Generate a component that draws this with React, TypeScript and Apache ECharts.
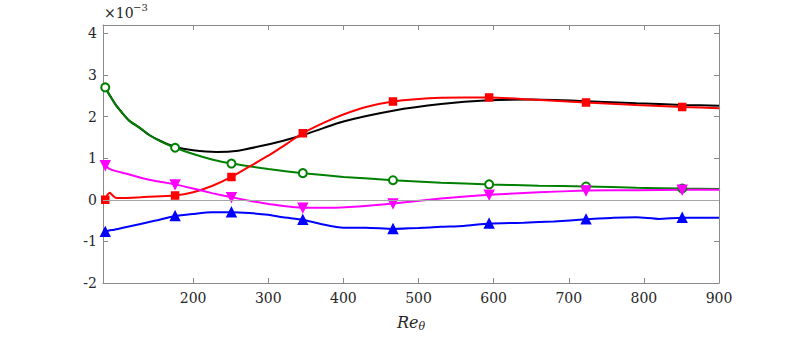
import React, { useEffect, useRef } from "react";
import * as echarts from "echarts";

const X_TICKS = [200, 300, 400, 500, 600, 700, 800, 900];
const Y_TICKS = [-2, -1, 0, 1, 2, 3, 4];
const MARKER_X = [83, 176, 251, 346, 466, 594, 723, 851];

const greenX = [83, 90, 97, 105, 115, 128, 142, 158, 176, 200, 225, 251, 300, 346, 400, 466, 530, 594, 660, 723, 790, 851, 900];
const greenY = [2.70, 2.48, 2.28, 2.10, 1.90, 1.74, 1.55, 1.39, 1.25, 1.10, 0.97, 0.87, 0.74, 0.64, 0.55, 0.47, 0.41, 0.37, 0.34, 0.32, 0.29, 0.27, 0.26];

const blackX = [83, 90, 97, 105, 115, 128, 142, 158, 176, 200, 231, 260, 290, 320, 346, 400, 466, 530, 594, 650, 723, 790, 851, 900];
const blackY = [2.70, 2.48, 2.28, 2.10, 1.90, 1.74, 1.55, 1.40, 1.27, 1.19, 1.15, 1.18, 1.29, 1.42, 1.55, 1.88, 2.14, 2.30, 2.39, 2.41, 2.37, 2.32, 2.28, 2.26];

const redX = [83, 86, 89, 93, 98, 105, 130, 150, 176, 200, 225, 251, 275, 300, 325, 346, 375, 400, 430, 466, 500, 530, 560, 594, 650, 723, 790, 851, 900];
const redY = [0.00, 0.12, 0.17, 0.10, 0.04, 0.04, 0.06, 0.08, 0.10, 0.18, 0.33, 0.55, 0.80, 1.06, 1.35, 1.60, 1.86, 2.05, 2.23, 2.36, 2.42, 2.45, 2.46, 2.46, 2.41, 2.34, 2.28, 2.23, 2.20];

const magentaX = [83, 88, 95, 110, 130, 150, 176, 200, 225, 251, 280, 300, 346, 380, 420, 466, 530, 594, 660, 723, 790, 851, 900];
const magentaY = [0.83, 0.75, 0.70, 0.63, 0.53, 0.45, 0.37, 0.27, 0.16, 0.06, -0.04, -0.10, -0.19, -0.19, -0.16, -0.09, 0.03, 0.12, 0.18, 0.22, 0.23, 0.24, 0.24];

const blueX = [83, 88, 95, 105, 130, 150, 176, 200, 225, 251, 275, 300, 320, 346, 370, 400, 430, 466, 500, 530, 560, 594, 640, 680, 723, 760, 790, 820, 851, 880, 900];
const blueY = [-0.77, -0.74, -0.72, -0.68, -0.58, -0.50, -0.39, -0.34, -0.30, -0.30, -0.32, -0.36, -0.42, -0.48, -0.58, -0.67, -0.67, -0.70, -0.68, -0.65, -0.63, -0.57, -0.55, -0.52, -0.47, -0.43, -0.42, -0.46, -0.43, -0.43, -0.43];

const FONT = "DejaVu Serif";
const TEXT = "#262626";
const AXIS = "#8a8a8a";

function buildData(xs: number[], ys: number[], withMarkers: boolean) {
  return xs.map((x, i) => {
    const isMarker = withMarkers && MARKER_X.indexOf(x) >= 0;
    return isMarker ? { value: [x, ys[i]] } : { value: [x, ys[i]], symbol: "none" };
  });
}

function lineSeries(name: string, xs: number[], ys: number[], color: string, symbol: string, opts: any = {}) {
  return {
    name,
    type: "line",
    xAxisIndex: 0,
    yAxisIndex: 0,
    data: buildData(xs, ys, symbol !== "none"),
    smooth: 0.2,
    symbol: symbol === "none" ? "none" : symbol,
    symbolSize: 8,
    showAllSymbol: true,
    lineStyle: { color, width: 2 },
    itemStyle: { color, borderColor: color, borderWidth: 1.5 },
    z: 3,
    ...opts,
  };
}

export default function App() {
  const ref = useRef<HTMLDivElement>(null);
  useEffect(() => {
    if (!ref.current) return;
    const chart = echarts.init(ref.current, undefined, { renderer: "svg" });
    const axisCommon = {
      type: "value",
      axisLine: { show: true, onZero: false, lineStyle: { color: AXIS, width: 1 } },
      splitLine: { show: false },
    };
    chart.setOption({
      animation: false,
      backgroundColor: "#fff",
      textStyle: { fontFamily: FONT },
      grid: { left: 103, right: 74, top: 25, bottom: 51, containLabel: false },
      xAxis: [
        {
          ...axisCommon,
          position: "bottom",
          min: 80,
          max: 900,
          axisTick: { show: true, inside: true, length: 5, lineStyle: { color: AXIS }, customValues: X_TICKS },
          axisLabel: { show: true, customValues: X_TICKS, color: TEXT, fontFamily: FONT, fontSize: 14, margin: 8 },
          name: "{i|Re}{s|θ}",
          nameLocation: "middle",
          nameGap: 30,
          nameTextStyle: {
            rich: {
              i: { fontFamily: FONT, fontStyle: "italic", fontSize: 16, color: TEXT },
              s: { fontFamily: FONT, fontStyle: "italic", fontSize: 11, color: TEXT, verticalAlign: "bottom", padding: [8, 0, 0, 0] },
            },
          },
        },
        {
          ...axisCommon,
          position: "top",
          min: 80,
          max: 900,
          axisTick: { show: true, inside: true, length: 5, lineStyle: { color: AXIS }, customValues: X_TICKS },
          axisLabel: { show: false },
        },
      ],
      yAxis: [
        {
          ...axisCommon,
          position: "left",
          min: -2,
          max: 4.2,
          axisTick: { show: true, inside: true, length: 5, lineStyle: { color: AXIS }, customValues: Y_TICKS },
          axisLabel: { show: true, customValues: Y_TICKS, color: TEXT, fontFamily: FONT, fontSize: 14, margin: 6, formatter: (v: number) => String(v) },
        },
        {
          ...axisCommon,
          position: "right",
          min: -2,
          max: 4.2,
          axisTick: { show: true, inside: true, length: 5, lineStyle: { color: AXIS }, customValues: Y_TICKS },
          axisLabel: { show: false },
        },
      ],
      graphic: [
        {
          type: "text",
          x: 104,
          y: 6,
          style: { text: "×10", font: "14px DejaVu Serif", fontSize: 14, fontFamily: FONT, fill: TEXT, textVerticalAlign: "top" },
        },
        {
          type: "text",
          x: 133,
          y: 2,
          style: { text: "−3", font: "10px DejaVu Serif", fontSize: 10, fontFamily: FONT, fill: TEXT, textVerticalAlign: "top" },
        },
      ],
      series: [
        {
          type: "line",
          data: [],
          markLine: {
            silent: true,
            symbol: "none",
            label: { show: false },
            lineStyle: { color: "#a6a6a6", width: 1, type: "solid" },
            data: [{ yAxis: 0 }],
          },
          z: 1,
        },
        lineSeries("black", blackX, blackY, "#000000", "none"),
        lineSeries("green", greenX, greenY, "#008000", "emptyCircle", { symbolSize: 8, itemStyle: { color: "#008000", borderWidth: 1.6 } }),
        lineSeries("red", redX, redY, "#ff0000", "rect", { symbolSize: 7 }),
        lineSeries("magenta", magentaX, magentaY, "#ff00ff", "triangle", { symbolRotate: 180, symbolSize: 9 }),
        lineSeries("blue", blueX, blueY, "#0000ff", "triangle", { symbolSize: 9 }),
      ],
    });
    return () => chart.dispose();
  }, []);
  return <div ref={ref} style={{ width: 793, height: 337, position: "absolute", left: 0, top: 0 }} />;
}
